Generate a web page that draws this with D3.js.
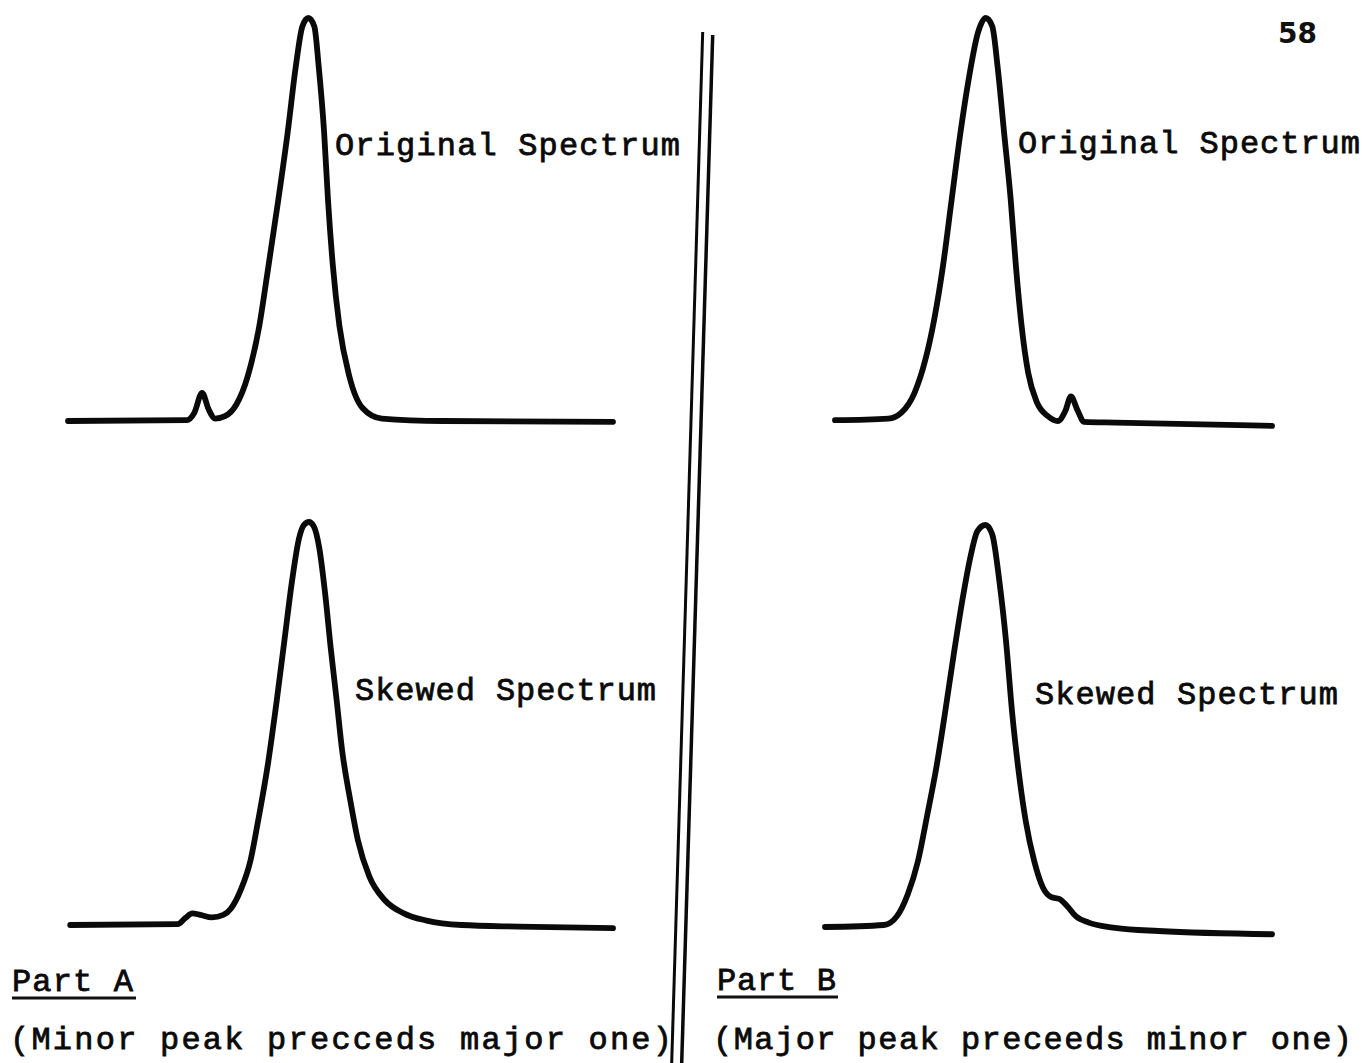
<!DOCTYPE html>
<html>
<head>
<meta charset="utf-8">
<script src="https://cdn.jsdelivr.net/npm/d3@7"></script>
<style>
  html, body { margin: 0; padding: 0; background: #fff; }
  svg { display: block; }
  .lbl { font-family: "Liberation Mono", "DejaVu Sans Mono", monospace; font-size: 32px; fill: #0a0a0a; stroke: #0a0a0a; stroke-width: 0.8px; }
</style>
</head>
<body>
<svg id="chart" width="1362" height="1063"></svg>
<script>
// ---- Data (channel 0-100, relative intensity 0-100) ----
const partA_original_x = [0, 21.8, 23.2, 24.6, 25.8, 27.0, 28.8, 30.9, 33.0, 35.1, 36.6, 38.6, 40.3, 41.8, 43.0, 44.1, 45.2, 46.0, 47.0, 47.7, 48.6, 49.8, 51.6, 54.0, 57.6, 68.8, 100];
const partA_original_y = [0, 0.2, 2.1, 7.0, 2.9, 0.6, 1.2, 4.1, 11.2, 23.6, 36.8, 55.0, 71.5, 88.0, 97.9, 100, 97.9, 88.0, 71.5, 55.0, 38.5, 23.6, 11.2, 3.3, 0.6, 0, -0.2];

const partA_skewed_x = [0.4, 20.1, 21.5, 22.8, 24.3, 26.4, 28.5, 29.9, 31.7, 33.5, 34.9, 36.6, 38.3, 39.7, 41.1, 42.4, 43.3, 44.2, 45.1, 46.1, 47.2, 48.2, 49.3, 50.3, 51.8, 53.2, 55.3, 58.1, 61.6, 65.8, 72.2, 82.7, 100];
const partA_skewed_y = [0, 0.2, 1.7, 2.9, 2.5, 1.9, 2.5, 4.1, 8.7, 16.1, 26.0, 39.2, 55.7, 70.5, 85.3, 96.0, 99.3, 100, 98.9, 93.6, 82.0, 68.8, 55.7, 43.3, 30.9, 21.0, 12.0, 6.2, 2.9, 1.1, 0, -0.4, -0.8];

const partB_original_x = [0, 12.2, 15.2, 18.2, 20.7, 22.7, 24.7, 26.7, 28.7, 30.7, 32.7, 34.5, 36.0, 37.2, 38.7, 40.2, 41.4, 42.7, 44.2, 46.2, 48.7, 51.0, 52.7, 54.0, 55.4, 57.0, 64.2, 100];
const partB_original_y = [0.2, 0.6, 2.1, 7.0, 15.3, 25.2, 38.4, 55.0, 71.5, 85.5, 96.3, 100, 97.9, 88.0, 71.5, 55.0, 38.4, 23.6, 12.0, 4.6, 1.2, 0, 2.5, 6.1, 2.9, -0.2, -0.4, -1.2];

const partB_skewed_x = [0, 13.2, 16.1, 18.5, 20.8, 22.9, 24.9, 26.8, 28.8, 30.7, 32.5, 34.1, 35.9, 37.4, 39.0, 40.5, 41.9, 43.4, 44.9, 46.8, 48.8, 50.7, 52.4, 54.1, 56.1, 59.0, 64.9, 74.6, 100];
const partB_skewed_y = [0, 0.5, 2.7, 8.1, 16.4, 28.0, 39.6, 52.9, 67.8, 81.1, 91.9, 98.5, 100, 97.7, 86.1, 71.1, 52.9, 38.0, 26.4, 16.4, 9.7, 7.4, 7.0, 5.3, 2.7, 1.1, -0.2, -1.0, -1.8];

const spectrumLabels = ["Original Spectrum", "Skewed Spectrum"];
const partTitles = ["Part A", "Part B"];
const partCaptions = ["(Minor peak precceds major one)", "(Major peak preceeds minor one)"];
const pageNumber = "58";

// ---- Layout ----
const panels = [
  { xs: partA_original_x, ys: partA_original_y, xr: [68, 613],  yr: [421, 18],  label: spectrumLabels[0], lx: 335,  ly: 155, lw: 345 },
  { xs: partA_skewed_x,   ys: partA_skewed_y,   xr: [68, 613],  yr: [925, 522], label: spectrumLabels[1], lx: 355,  ly: 700, lw: 301 },
  { xs: partB_original_x, ys: partB_original_y, xr: [835, 1272], yr: [421, 18], label: spectrumLabels[0], lx: 1018, ly: 153, lw: 342 },
  { xs: partB_skewed_x,   ys: partB_skewed_y,   xr: [825, 1272], yr: [927, 525], label: spectrumLabels[1], lx: 1035, ly: 704, lw: 303 }
];

const svg = d3.select("#chart");

panels.forEach(p => {
  const x = d3.scaleLinear().domain([0, 100]).range(p.xr);
  const y = d3.scaleLinear().domain([0, 100]).range(p.yr);
  const pts = p.xs.map((v, i) => [v, p.ys[i]]);
  const line = d3.line().x(d => x(d[0])).y(d => y(d[1])).curve(d3.curveMonotoneX);
  svg.append("path")
    .attr("d", line(pts))
    .attr("fill", "none")
    .attr("stroke", "#0a0a0a")
    .attr("stroke-width", 5.8)
    .attr("stroke-linecap", "round")
    .attr("stroke-linejoin", "round");
  svg.append("text").attr("class", "lbl").attr("x", p.lx).attr("y", p.ly)
    .attr("textLength", p.lw).attr("lengthAdjust", "spacing").text(p.label);
});

// Double vertical divider
svg.append("line").attr("x1", 702.7).attr("y1", 32).attr("x2", 671.7).attr("y2", 1063)
  .attr("stroke", "#0a0a0a").attr("stroke-width", 3);
svg.append("line").attr("x1", 712.7).attr("y1", 35).attr("x2", 681.7).attr("y2", 1063)
  .attr("stroke", "#0a0a0a").attr("stroke-width", 3.5);

// Part titles, underlines and captions
const bottom = [
  { title: partTitles[0], tx: 12,  ty: 991, tw: 121, ux: [12, 136],  uy: 998, cap: partCaptions[0], cx: 10,  cy: 1049, cw: 662 },
  { title: partTitles[1], tx: 717, ty: 990, tw: 119, ux: [717, 838], uy: 997, cap: partCaptions[1], cx: 713, cy: 1049, cw: 639 }
];
bottom.forEach(b => {
  svg.append("text").attr("class", "lbl").attr("x", b.tx).attr("y", b.ty)
    .attr("textLength", b.tw).attr("lengthAdjust", "spacing").text(b.title);
  svg.append("line").attr("x1", b.ux[0]).attr("x2", b.ux[1]).attr("y1", b.uy).attr("y2", b.uy)
    .attr("stroke", "#111").attr("stroke-width", 3);
  svg.append("text").attr("class", "lbl").attr("x", b.cx).attr("y", b.cy)
    .attr("textLength", b.cw).attr("lengthAdjust", "spacing").text(b.cap);
});

// Page number
svg.append("text")
  .attr("x", 1278).attr("y", 43)
  .attr("font-family", "DejaVu Sans, sans-serif")
  .attr("font-weight", "bold")
  .attr("font-size", 28)
  .attr("fill", "#111")
  .text(pageNumber);
</script>
</body>
</html>
